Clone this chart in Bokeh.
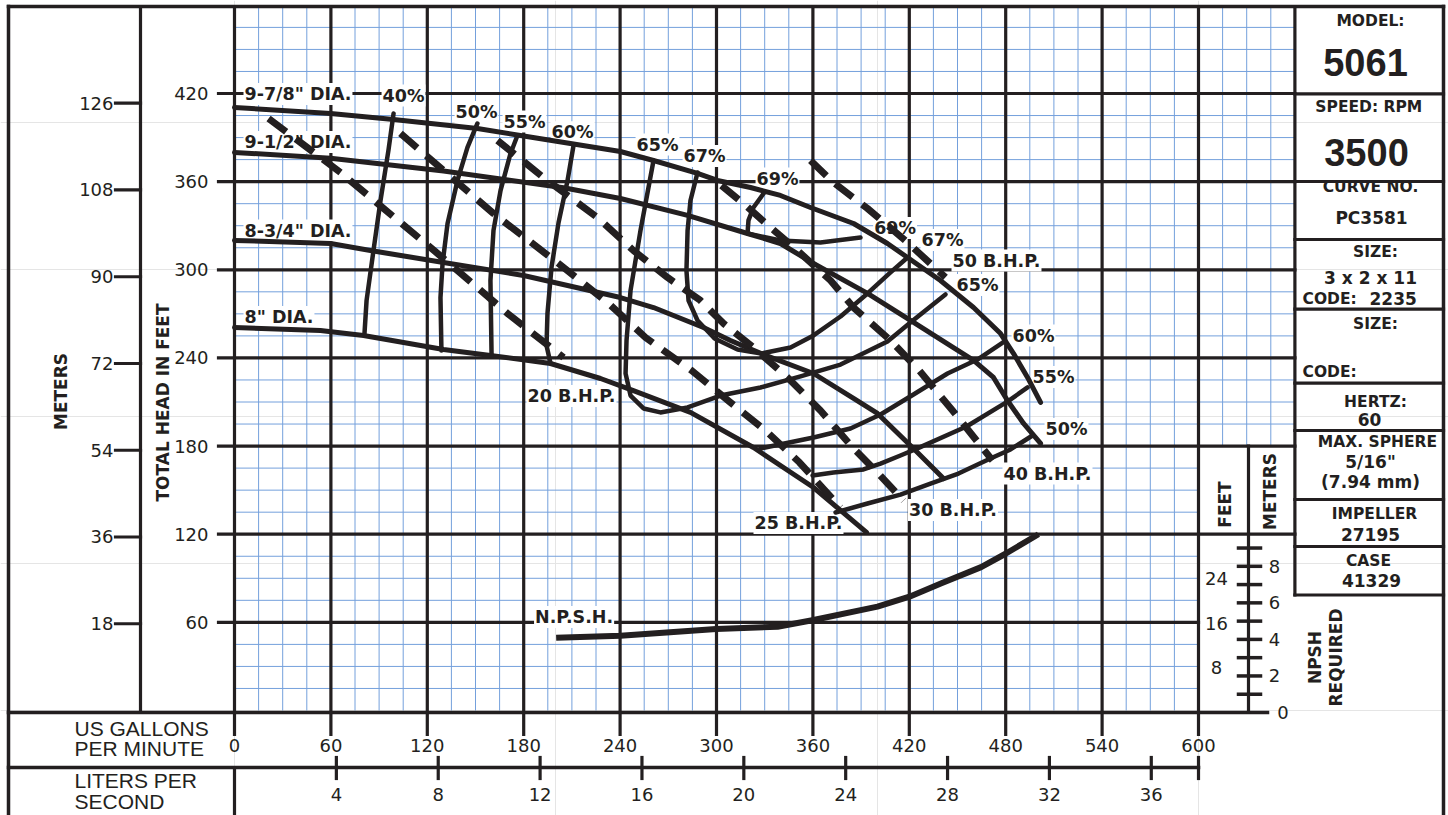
import math
from bokeh.plotting import figure
from bokeh.models import Range1d, ColumnDataSource
from bokeh.core.properties import value
from bokeh.embed import file_html
from bokeh.resources import INLINE

# ---------------- values ----------------
gpm_ticks = [0, 60, 120, 180, 240, 300, 360, 420, 480, 540, 600]
lps_ticks = [4, 8, 12, 16, 20, 24, 28, 32, 36]
ft_ticks = [60, 120, 180, 240, 300, 360, 420]
m_ticks = [18, 36, 54, 72, 90, 108, 126]
npsh_ft_ticks = [8, 16, 24]
npsh_m_ticks = [0, 2, 4, 6, 8]
npsh_m_marks = [1, 2, 3, 4, 5, 6, 7, 8, 9]

dia_names = ['9-7/8" DIA.', '9-1/2" DIA.', '8-3/4" DIA.', '8" DIA.']

# impeller head-capacity curves: flow (US GPM) and head (ft)
dia_9875_q = [0, 59.8, 99.0, 151.2, 178.0, 209.1, 240.2, 260.8, 288.2, 300.6, 321.2, 339.8,
              358.5, 385.3, 406.4, 418.9, 439.4, 460.0, 476.8, 484.9, 493.6, 501.7]
dia_9875_h = [410.5, 406.4, 402.3, 396.2, 391.4, 386.0, 380.5, 374.4, 365.6, 360.8, 356.0, 350.6,
              342.4, 331.5, 317.9, 308.4, 292.7, 274.3, 256.6, 243.0, 226.7, 209.7]
dia_95_q = [0, 59.8, 130.1, 204.8, 240.2, 282.0, 319.3, 339.8, 360.4, 394.0, 420.7, 460.0,
            472.4, 481.1, 491.1, 501.7]
dia_95_h = [379.9, 375.9, 367.2, 355.8, 348.5, 337.0, 324.7, 317.9, 304.3, 283.9, 265.5, 238.3,
            226.7, 211.0, 195.4, 181.8]
dia_875_q = [0, 59.8, 84.6, 130.1, 179.9, 240.2, 260.8, 291.9, 308.7, 329.3, 360.4, 385.3,
             400.2, 422.6, 441.3]
dia_875_h = [320.0, 317.9, 313.1, 305.0, 296.1, 281.1, 274.3, 260.7, 251.9, 242.3, 229.4, 212.4,
             202.2, 178.4, 157.9]
dia_8_q = [0, 53.5, 80.3, 130.1, 159.3, 196.7, 227.8, 248.3, 283.8, 323.0, 360.4, 393.4]
dia_8_h = [260.7, 258.7, 255.3, 245.7, 241.7, 236.2, 226.0, 217.8, 202.9, 179.0, 151.8, 121.2]

# iso-efficiency lines
eff40_q = [99.0, 95.8, 90.9, 86.5, 82.2, 80.9]
eff40_h = [406.4, 381.2, 347.2, 313.1, 279.1, 256.6]
eff50_q = [151.2, 145.0, 138.8, 132.6, 129.5, 128.2, 128.8]
eff50_h = [399.6, 383.3, 360.8, 331.5, 304.3, 281.1, 245.1]
eff55_q = [176.1, 171.8, 165.6, 161.2, 159.3, 160.0]
eff55_h = [391.4, 379.2, 354.0, 326.8, 292.7, 241.7]
eff60_q = [211.0, 207.3, 201.7, 197.3, 194.8, 194.2, 196.7]
eff60_h = [384.6, 360.8, 332.2, 301.6, 270.3, 248.5, 236.2]
eff65_q = [260.8, 252.7, 246.5, 244.0, 243.4, 246.5, 254.6, 265.1, 282.0, 302.5, 327.4, 352.3,
           377.2, 406.4, 420.7, 442.5]
eff65_h = [374.4, 326.8, 285.9, 251.9, 229.4, 214.4, 205.6, 202.9, 206.3, 214.4, 219.9, 227.4,
           235.5, 251.2, 264.1, 283.2]
eff67_q = [288.2, 283.8, 282.0, 281.3, 282.6, 288.2, 298.8, 313.1, 328.0, 346.1, 360.4, 377.2,
           394.0, 408.3, 418.9]
eff67_h = [366.2, 347.2, 326.8, 299.5, 279.1, 265.5, 253.2, 245.7, 243.0, 247.1, 255.3, 268.2,
           283.9, 298.2, 308.4]
eff69_q = [329.3, 323.0, 319.9, 319.3, 339.8, 364.7, 389.6]
eff69_h = [351.9, 342.4, 333.6, 324.7, 320.0, 318.6, 322.0]
eff60r_q = [327.4, 360.4, 383.4, 402.1, 422.6, 443.8, 462.4, 479.3]
eff60r_h = [178.4, 185.8, 192.0, 201.5, 215.1, 229.4, 238.9, 251.2]
eff55r_q = [359.8, 372.8, 391.5, 402.1, 414.5, 425.1, 455.6, 481.1, 493.6]
eff55r_h = [160.0, 162.0, 164.1, 168.1, 173.6, 178.4, 193.3, 210.3, 219.9]
eff50r_q = [374.1, 394.0, 414.5, 433.2, 450.6, 470.5, 483.0, 496.7]
eff50r_h = [134.8, 140.9, 147.0, 154.5, 161.3, 171.5, 177.7, 187.2]

# brake horsepower lines
bhp20_q = [21.2, 66.0, 126.4, 169.9, 204.8]
bhp20_h = [403.0, 366.2, 311.1, 270.3, 240.3]
bhp25_q = [103.3, 130.1, 161.2, 204.8, 232.2, 255.8, 284.4, 308.7, 330.5, 351.7, 377.2]
bhp25_h = [392.8, 367.6, 338.3, 301.6, 277.7, 253.9, 231.5, 209.7, 190.6, 168.8, 138.2]
bhp30_q = [163.7, 192.3, 225.9, 248.3, 269.5, 290.0, 304.4, 323.0, 344.2, 364.7, 385.3,
           400.8, 416.4]
bhp30_h = [388.0, 362.8, 335.6, 313.1, 294.8, 279.1, 263.4, 247.1, 226.7, 204.2, 178.4,
           161.3, 142.9]
bhp40_q = [303.1, 316.8, 333.6, 350.4, 371.0, 385.3, 408.3, 425.1, 446.9, 471.8]
bhp40_h = [357.4, 345.1, 328.8, 313.1, 292.7, 274.3, 251.9, 232.8, 204.2, 170.2]
bhp50_q = [358.5, 372.8, 394.0, 418.9, 442.5]
bhp50_h = [374.4, 359.4, 341.7, 318.6, 294.8]

# NPSH required (ft)
npsh_q = [200.2, 240.2, 299.8, 338.0, 360.4, 400.2, 420.1, 440.0, 464.7, 479.9, 500.4]
npsh_ft = [13.4, 13.8, 15.0, 15.4, 16.6, 19.0, 20.8, 23.2, 26.1, 28.5, 32.0]

# ---------------- layout ----------------
K = "#231f20"
BLUE = "#74a0dc"
FONT = "DejaVu Sans"
SANS = "Liberation Sans"
SX = 964 / 600.0          # px per GPM
SY = 617 / 420.0          # px per ft
NPSH_PX = 5.57            # px per ft on the NPSH scale
GPM_PER_LPS = 15.850323
FT_TO_M = 0.3048
W, H = 1448, 815


def X(px):
    return (px - 234.0) / SX


def Y(py):
    return (710.0 - py) / SY


p = figure(width=W, height=H,
           x_range=Range1d(X(0), X(W)), y_range=Range1d(Y(H), Y(0)),
           output_backend="svg", toolbar_location=None, tools="",
           min_border=0, x_axis_location=None, y_axis_location=None)
p.outline_line_color = None
p.background_fill_color = "white"
p.border_fill_color = "white"
p.extra_y_ranges = {
    "m": Range1d(Y(H) * FT_TO_M, Y(0) * FT_TO_M),
    "npsh": Range1d((712.0 - H) / NPSH_PX, 712.0 / NPSH_PX),
}
p.extra_x_ranges = {"lps": Range1d(X(0) / GPM_PER_LPS, X(W) / GPM_PER_LPS)}

TOP = Y(6)

# ---- blue fine grid ----
gx, gy = [], []
for g in range(15, 661, 15):
    if g % 60 == 0:
        continue
    gx.append([g, g])
    gy.append([0 if g < 600 else 180, TOP])
for f in range(15, 480, 15):
    if f % 60 == 0:
        continue
    gx.append([0, 660 if f > 180 else 600])
    gy.append([f, f])
p.multi_line(gx, gy, line_color=BLUE, line_width=1)


def seg(x0, y0, x1, y1, w=3.2, **kw):
    p.segment(x0=x0, y0=y0, x1=x1, y1=y1, line_color=K, line_width=w, line_cap="square", **kw)


# ---- heavy grid ----
seg(gpm_ticks, [Y(734)] * len(gpm_ticks), gpm_ticks, [TOP] * len(gpm_ticks))
seg([660], [Y(594.5)], [660], [TOP])
seg([X(218)] * len(ft_ticks), ft_ticks, [660 if f >= 120 else 600 for f in ft_ticks], ft_ticks)

# ---- frame / panels ----
seg([X(8)], [TOP], [X(1443)], [TOP], w=3.5)
seg([X(8)], [TOP], [X(8)], [Y(H)], w=3.5)
seg([X(1443)], [TOP], [X(1443)], [Y(H)], w=3.5)
seg([X(140)], [TOP], [X(140)], [Y(712)])
seg([X(8)], [Y(712)], [X(1267)], [Y(712)], w=3.5)
seg([X(8)], [Y(767)], [600], [Y(767)], w=3.5)
seg([0], [Y(767)], [0], [Y(H)])
# metre ticks
seg([X(115)] * len(m_ticks), m_ticks, [X(140)] * len(m_ticks), m_ticks, y_range_name="m")
# litres-per-second ticks
seg(lps_ticks, [Y(757)] * len(lps_ticks), lps_ticks, [Y(778)] * len(lps_ticks), x_range_name="lps")
seg([600], [Y(757)], [600], [Y(778)])
# info panel boxes
box_rows = [93.3, 181, 239, 308.7, 382.6, 430, 499, 546, 594.5]
seg([660] * len(box_rows), [Y(r) for r in box_rows], [X(1443)] * len(box_rows), [Y(r) for r in box_rows])
# NPSH scale
seg([X(1248)], [180], [X(1248)], [Y(712)])
npsh_marks_ft = [m / FT_TO_M for m in npsh_m_marks]
seg([X(1238)] * len(npsh_marks_ft), npsh_marks_ft, [X(1260)] * len(npsh_marks_ft), npsh_marks_ft,
    w=3.5, y_range_name="npsh")


def label(xs, ys, texts, size, bold=False, align="center", font=FONT, angle=0.0, bg=None, **kw):
    src = ColumnDataSource(dict(x=list(xs), y=list(ys), text=list(texts)))
    opts = dict(text_font=value(font), text_font_size="%spx" % size,
                text_font_style="bold" if bold else "normal",
                text_align=align, text_baseline="middle", text_color=K, angle=angle)
    if bg:
        opts.update(background_fill_color=bg, padding=1)
    p.text(x="x", y="y", text="text", source=src, **opts, **kw)


# ---- tick labels ----
label([X(208)] * len(ft_ticks), ft_ticks, [str(v) for v in ft_ticks], 18, align="right")
label([X(113)] * len(m_ticks), m_ticks, [str(v) for v in m_ticks], 18, align="right", y_range_name="m")
label(gpm_ticks, [Y(745)] * len(gpm_ticks), [str(v) for v in gpm_ticks], 18)
label(lps_ticks, [Y(794)] * len(lps_ticks), [str(v) for v in lps_ticks], 18, x_range_name="lps")
label([X(1216)] * len(npsh_ft_ticks), npsh_ft_ticks, [str(v) for v in npsh_ft_ticks], 18,
      y_range_name="npsh")
label([X(1282.5) if v == 0 else X(1274) for v in npsh_m_ticks], [v / FT_TO_M for v in npsh_m_ticks],
      [str(v) for v in npsh_m_ticks], 18, y_range_name="npsh")

# ---- axis titles ----
label([X(74)] * 4, [Y(727.5), Y(747.5), Y(780), Y(801)],
      ["US GALLONS", "PER MINUTE", "LITERS PER", "SECOND"], 21, align="left", font=SANS)
label([X(60), X(162)], [Y(391), Y(402)], ["METERS", "TOTAL HEAD IN FEET"], 17, bold=True,
      angle=math.pi / 2)
label([X(1224), X(1269)], [Y(504), Y(491)], ["FEET", "METERS"], 17, bold=True, angle=math.pi / 2)
label([X(1314.5), X(1335)], [Y(657), Y(657)], ["NPSH", "REQUIRED"], 17, bold=True, angle=math.pi / 2)

# ---- info panel ----
info_small = [("MODEL:", 1370, 20), ("SPEED:  RPM", 1371, 106), ("CURVE NO.", 1370, 186),
              ("SIZE:", 1375, 251), ("SIZE:", 1375, 323), ("HERTZ:", 1375, 401),
              ("MAX. SPHERE", 1377, 441), ("IMPELLER", 1374, 513), ("CASE", 1368, 560)]
label([X(a[1]) for a in info_small], [Y(a[2]) for a in info_small], [a[0] for a in info_small],
      15.5, bold=True)
info_vals = [("PC3581", 1371, 217), ("3 x 2 x 11", 1370, 277), ("60", 1369, 419),
             ('5/16"', 1370, 461), ("(7.94 mm)", 1370, 481), ("27195", 1370, 533.5),
             ("41329", 1371, 580)]
label([X(a[1]) for a in info_vals], [Y(a[2]) for a in info_vals], [a[0] for a in info_vals],
      17, bold=True)
label([X(1302), X(1302)], [Y(298), Y(371)], ["CODE:", "CODE:"], 15.5, bold=True, align="left")
label([X(1369)], [Y(298)], ["2235"], 17, bold=True, align="left")
label([X(1365), X(1366)], [Y(62), Y(152)], ["5061", "3500"], 38, bold=True, font=SANS)

# ---- curve labels (white background) ----
curve_labels = [
    (dia_names[0], 243, 93.5, "left"), (dia_names[1], 243, 141.5, "left"),
    (dia_names[2], 243, 230, "left"), (dia_names[3], 243, 316.5, "left"),
    ("40%", 403, 95, "center"), ("50%", 476, 111.5, "center"), ("55%", 524, 121, "center"),
    ("60%", 572, 131.7, "center"), ("65%", 657, 144, "center"), ("67%", 704, 155.5, "center"),
    ("69%", 777, 178, "center"), ("69%", 894.6, 227.5, "center"), ("67%", 942, 239.5, "center"),
    ("50 B.H.P.", 996, 260, "center"), ("65%", 977, 284.5, "center"), ("60%", 1033, 335, "center"),
    ("55%", 1053, 376.5, "center"), ("50%", 1066, 428.5, "center"),
    ("40 B.H.P.", 1047, 473, "center"), ("30 B.H.P.", 952.5, 509.5, "center"),
    ("25 B.H.P.", 798, 522.5, "center"), ("20 B.H.P.", 571, 395.5, "center"),
    ("N.P.S.H.", 573.6, 616.5, "center"),
]
for align in ("left", "center"):
    sel = [c for c in curve_labels if c[3] == align]
    label([X(c[1]) for c in sel], [Y(c[2]) for c in sel], [c[0] for c in sel], 17.5, bold=True,
          align=align, bg="white")

# ---- curves ----
for q, h in [(dia_9875_q, dia_9875_h), (dia_95_q, dia_95_h), (dia_875_q, dia_875_h), (dia_8_q, dia_8_h)]:
    p.line(q, h, line_color=K, line_width=5, line_join="round", line_cap="round")

for q, h in [(eff40_q, eff40_h), (eff50_q, eff50_h), (eff55_q, eff55_h), (eff60_q, eff60_h),
             (eff65_q, eff65_h), (eff67_q, eff67_h), (eff69_q, eff69_h), (eff60r_q, eff60r_h),
             (eff55r_q, eff55r_h), (eff50r_q, eff50r_h)]:
    p.line(q, h, line_color=K, line_width=4.5, line_join="round", line_cap="round")

for q, h in [(bhp20_q, bhp20_h), (bhp25_q, bhp25_h), (bhp30_q, bhp30_h), (bhp40_q, bhp40_h),
             (bhp50_q, bhp50_h)]:
    p.line(q, h, line_color=K, line_width=7, line_dash="22 12", line_join="round")

p.line(npsh_q, npsh_ft, line_color=K, line_width=6, line_join="round", y_range_name="npsh")

open("out.html", "w").write(file_html(p, INLINE))
